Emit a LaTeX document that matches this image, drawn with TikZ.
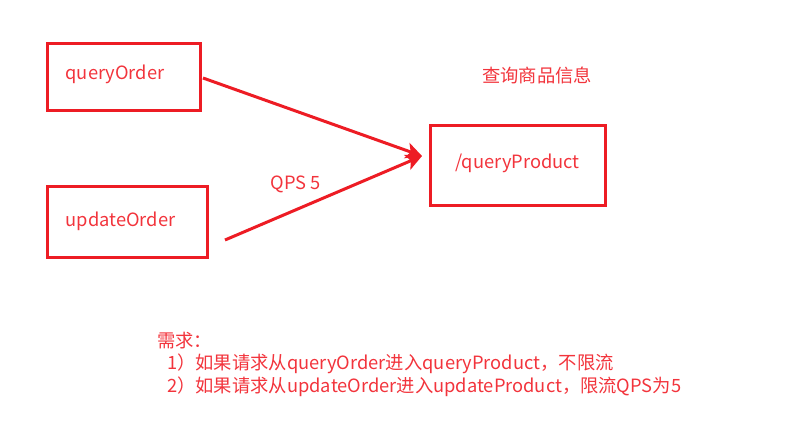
\documentclass[tikz,border=0pt]{standalone}
\usepackage{fontspec}
\setmainfont{Noto Sans CJK SC}
\usetikzlibrary{arrows.meta}
\definecolor{boxred}{HTML}{ED1C24}
\definecolor{textred}{HTML}{F2343C}
\tikzset{
	apibox/.style = {
		rectangle,
		draw=boxred,
		line width=3pt,
		text=textred,
		font=\fontsize{18.3}{21}\selectfont,
		inner sep=0pt
	},
	callline/.style = {
		draw=boxred,
		line width=3pt,
		-{Stealth[length=16pt,width=16pt,inset=4pt]}
	},
	notetext/.style = {
		text=textred,
		font=\fontsize{18.3}{21}\selectfont,
		inner sep=0pt
	},
}

\begin{document}
\begin{tikzpicture}[x=1pt,y=-1pt]
\useasboundingbox (0,0) rectangle (789,420);
\node [apibox, minimum width=153pt, minimum height=67pt] (qo) at (123.5,77) {\raisebox{10pt}{queryOrder}\hspace*{17pt}};
\node [apibox, minimum width=160pt, minimum height=71pt] (uo) at (127,221.5) {updateOrder\hspace*{13pt}};
\node [apibox, minimum width=175pt, minimum height=80pt] (qp) at (517.5,165) {\raisebox{8pt}{/queryProduct}};
\node [notetext, anchor=west] (title) at (482,75) {查询商品信息};

\coordinate (qo_out) at (203,78);
\coordinate (uo_out) at (225,240);
\coordinate (tip) at (422,156);
\draw [callline] (qo_out) -- (tip);
\draw [callline] (uo_out) -- (tip);
\node [notetext] (qps) at (296,184) {QPS 5};

% requirement notes
\node [notetext, anchor=west] (req) at (157,341) {需求：};
\node [notetext, anchor=west] (req1) at (167,364) {1）如果请求从queryOrder进入queryProduct，不限流};
\node [notetext, anchor=west] (req2) at (167,387) {2）如果请求从updateOrder进入updateProduct，限流QPS为5};
\end{tikzpicture}
\end{document}
